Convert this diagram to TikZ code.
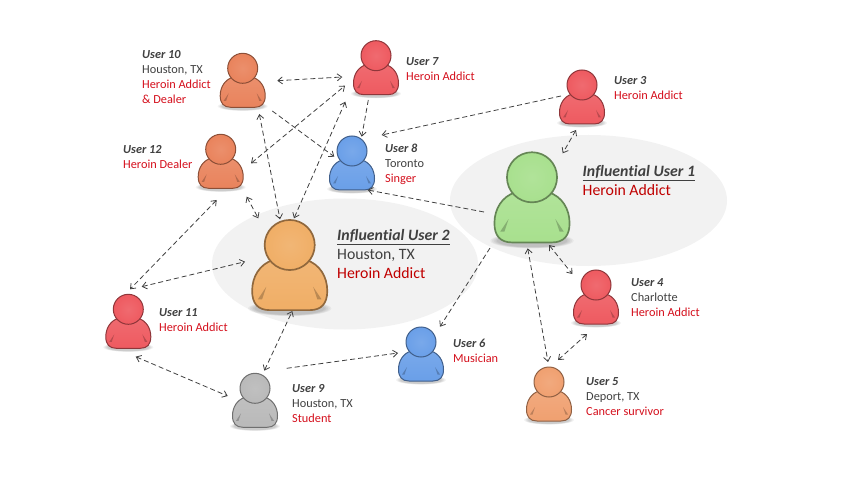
\documentclass[tikz,border=0pt]{standalone}
\usepackage{fontspec}
\setmainfont[Ligatures=NoCommon]{Carlito}
\usetikzlibrary{arrows.meta}
\definecolor{cred}{HTML}{EE5A60}
\definecolor{ccoral}{HTML}{E9835C}
\definecolor{cblue}{HTML}{6A9FE8}
\definecolor{cgold}{HTML}{F0AE66}
\definecolor{cgreen}{HTML}{A8E08E}
\definecolor{cgray}{HTML}{B9B9B9}
\definecolor{cpeach}{HTML}{F0A070}
\definecolor{cloud}{HTML}{F2F2F2}
\definecolor{darktext}{HTML}{404040}
\definecolor{redtext}{HTML}{D40F1C}
\definecolor{bigred}{HTML}{C00000}
\tikzstyle{head} = [circle, inner sep=0pt]
\tikzstyle{small} = [anchor=west, inner sep=0pt, align=left, text=darktext, font=\fontsize{12.3}{15}\selectfont]
\tikzstyle{big} = [anchor=west, inner sep=0pt, align=left, text=darktext, font=\fontsize{15.8}{19}\selectfont]
\tikzstyle{arrow} = [darktext, line width=0.8pt, dash pattern=on 5pt off 3pt, {Straight Barb[length=4.5pt,width=7pt]}-{Straight Barb[length=4.5pt,width=7pt]}]
\tikzstyle{oneway} = [darktext, line width=0.8pt, dash pattern=on 5pt off 3pt, -{Straight Barb[length=4.5pt,width=7pt]}]

% name, position, scale, colour
\newcommand{\usericon}[4]{
  \begin{scope}[shift={(#2)}, scale=#3]
    \foreach \s in {25,24,23,22,21} {
      \fill [black, opacity=0.045] (0,38) ellipse ({\s} and {\s/5.5});
    }
    \path [draw=#4!60!black, line width=#3*1pt, top color=#4!90!white, bottom color=#4]
      (-10,9) .. controls (-18,11.5) and (-22.5,19) .. (-22.5,27.5)
      .. controls (-22.5,35) and (-19,39) .. (-12,39) -- (12,39)
      .. controls (19,39) and (22.5,35) .. (22.5,27.5)
      .. controls (22.5,19) and (18,11.5) .. (10,9) -- cycle;
    \fill [black, opacity=0.22] (-19,32.5) -- (-14,25) -- (-16.5,32.5) -- cycle;
    \fill [black, opacity=0.22] (19,32.5) -- (14,25) -- (16.5,32.5) -- cycle;
    \node (#1) [head, draw=#4!60!black, line width=#3*1pt, minimum size=#3*30pt,
      inner color=#4!90!white, outer color=#4] {};
  \end{scope}
}
\newcommand{\smi}[1]{\textbf{\textit{#1}}}
\newcommand{\rd}[1]{\textcolor{redtext}{#1}}
\newcommand{\brd}[1]{\textcolor{bigred}{#1}}

\begin{document}
\begin{tikzpicture}[x=1pt, y=-1pt]
\useasboundingbox (0,0) rectangle (850,478);

%% CLOUDS

\fill [cloud] (345,264) ellipse (133 and 65.5);
\fill [cloud] (588.5,200.5) ellipse (138.5 and 65.5);

%% NODES

\usericon{u10}{242.7,68.3}{1}{ccoral}
\usericon{u7}{376,55.7}{1}{cred}
\usericon{u12}{220.7,149.3}{1}{ccoral}
\usericon{u8}{352,151}{1}{cblue}
\usericon{u3}{582,85}{1}{cred}
\usericon{u4}{596,285}{1}{cred}
\usericon{u5}{549,382}{1}{cpeach}
\usericon{u6}{421,342}{1}{cblue}
\usericon{u9}{255,388.3}{1}{cgray}
\usericon{u11}{128.3,309.3}{1}{cred}
\usericon{i1}{532,177.3}{1.67}{cgreen}
\usericon{i2}{289.7,245}{1.67}{cgold}

\node (t10) [small] at (142,77.5) {\smi{User 10}\\Houston, TX\\\rd{Heroin Addict}\\\rd{\&\ Dealer}};
\node (t7) [small] at (406,69.5) {\smi{User 7}\\\rd{Heroin Addict}};
\node (t3) [small] at (614,88.5) {\smi{User 3}\\\rd{Heroin Addict}};
\node (t12) [small] at (123,157.5) {\smi{User 12}\\\rd{Heroin Dealer}};
\node (t8) [small] at (385,164) {\smi{User 8}\\Toronto\\\rd{Singer}};
\node (t11) [small] at (159,320.5) {\smi{User 11}\\\rd{Heroin Addict}};
\node (t4) [small] at (631,298) {\smi{User 4}\\Charlotte\\\rd{Heroin Addict}};
\node (t6) [small] at (453,350.5) {\smi{User 6}\\\rd{Musician}};
\node (t9) [small] at (292,404) {\smi{User 9}\\Houston, TX\\\rd{Student}};
\node (t5) [small] at (586,397) {\smi{User 5}\\Deport, TX\\\rd{Cancer survivor}};
\node (t1b) [big] at (582.5,181) {\underline{\smi{Influential User 1}}\\\brd{Heroin Addict}};
\node (t2b) [big] at (337,254.5) {\underline{\smi{Influential User 2}}\\Houston, TX\\\brd{Heroin Addict}};

%% ARROWS

\draw [arrow] ([shift={(34.6,12.4)}]u10.center) -- ([shift={(-33.7,21.3)}]u7.center);
\draw [arrow] ([shift={(30.3,14)}]u12.center) -- ([shift={(-31,30)}]u7.center);
\draw [arrow] ([shift={(16.6,45.7)}]u10.center) -- ([shift={(-9.7,-25.7)}]i2.center);
\draw [arrow] ([shift={(-30.7,46)}]u7.center) -- ([shift={(4.3,-26.7)}]i2.center);
\draw [oneway] ([shift={(29.6,42.7)}]u10.center) -- ([shift={(-17.7,5.7)}]u8.center);
\draw [oneway] ([shift={(-7.7,44.3)}]u7.center) -- ([shift={(9.7,-14.3)}]u8.center);
\draw [oneway] ([shift={(-21,11)}]u3.center) -- ([shift={(29.7,-16)}]u8.center);
\draw [oneway] ([shift={(-48,34.7)}]i1.center) -- ([shift={(15.7,39)}]u8.center);
\draw [arrow] ([shift={(-4,50.7)}]u12.center) -- ([shift={(1.7,-20)}]u11.center);
\draw [arrow] ([shift={(26,47.4)}]u12.center) -- ([shift={(-31.4,-26.7)}]i2.center);
\draw [arrow] ([shift={(13.4,-22.6)}]u11.center) -- ([shift={(-44.7,16.7)}]i2.center);
\draw [arrow] ([shift={(9.3,-17.6)}]u9.center) -- ([shift={(2.6,66)}]i2.center);
\draw [arrow] ([shift={(7.4,47.4)}]u11.center) -- ([shift={(-27.3,7.7)}]u9.center);
\draw [oneway] ([shift={(31.7,-20)}]u9.center) -- ([shift={(-23,11)}]u6.center);
\draw [oneway] ([shift={(-42,70.7)}]i1.center) -- ([shift={(19,-15.3)}]u6.center);
\draw [arrow] ([shift={(-6,45)}]u3.center) -- ([shift={(30.7,-24)}]i1.center);
\draw [arrow] ([shift={(17,67.7)}]i1.center) -- ([shift={(-23.7,-11)}]u4.center);
\draw [arrow] ([shift={(-4.3,71)}]i1.center) -- ([shift={(-1,-20)}]u5.center);
\draw [arrow] ([shift={(-9,49)}]u4.center) -- ([shift={(9,-22)}]u5.center);

\end{tikzpicture}
\end{document}
